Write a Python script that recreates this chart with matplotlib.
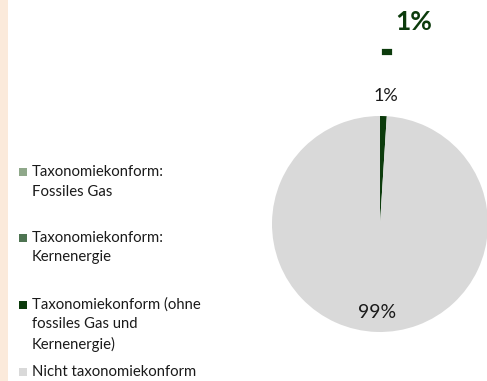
import matplotlib
matplotlib.use("Agg")
import matplotlib.pyplot as plt
from matplotlib.patches import Rectangle
import matplotlib.patheffects as pe

plt.rcParams['font.family'] = ['Lato', 'DejaVu Sans']

categories = [
    "Taxonomiekonform:\nFossiles Gas",
    "Taxonomiekonform:\nKernenergie",
    "Taxonomiekonform (ohne\nfossiles Gas und\nKernenergie)",
    "Nicht taxonomiekonform",
]
shares = [0, 0, 1, 99]
colors = ["#8FA88A", "#4E7452", "#0C3B0C", "#D9D9D9"]
headline_value = "1%"
headline_dash = "-"

W, H = 487, 381
fig = plt.figure(figsize=(W / 100, H / 100), dpi=100)
fig.patch.set_facecolor("white")

# beige strip along the left edge
fig.patches.append(Rectangle((0, 0), 8 / W, 1, transform=fig.transFigure,
                             facecolor="#FBEADB", edgecolor="none", zorder=0))

# pie axes
cx, cy, r = 380, 224, 108
ax = fig.add_axes([(cx - r) / W, (H - cy - r) / H, 2 * r / W, 2 * r / H])
wedges, _ = ax.pie(shares, colors=colors, startangle=90, counterclock=False,
                   radius=1, wedgeprops=dict(linewidth=0))
ax.set_xlim(-1, 1)
ax.set_ylim(-1, 1)
ax.axis("off")

ax.text(0.056, 1.185, f"{shares[2]}%", ha="center", va="center",
        fontsize=13, color="#1a1a1a", clip_on=False)
ax.text(-0.03, -0.815, f"{shares[3]}%", ha="center", va="center",
        fontsize=14, color="#1a1a1a", clip_on=False)
ax.text(0.31, 1.87, headline_value, ha="center", va="center",
        fontsize=19, fontweight="bold", color="#0C3B0C", clip_on=False)
ax.text(0.065, 1.59, headline_dash, ha="center", va="center",
        fontsize=25, fontweight="bold", color="#0C3B0C", clip_on=False,
        path_effects=[pe.withStroke(linewidth=1.6, foreground="#0C3B0C",
                                    joinstyle="miter", capstyle="butt")])

# legend drawn manually
first_line_y = [172, 238, 305, 372]
line_gap = 19.5
for label, col, y0 in zip(categories, colors, first_line_y):
    fig.patches.append(Rectangle((19 / W, (H - y0 - 4) / H), 8 / W, 8 / H,
                                 transform=fig.transFigure, facecolor=col,
                                 edgecolor="none"))
    for i, line in enumerate(label.split("\n")):
        fig.text(32 / W, (H - y0 - i * line_gap) / H, line, ha="left",
                 va="center", fontsize=10.7, color="#1a1a1a")

fig.savefig("out.png", dpi=100)
